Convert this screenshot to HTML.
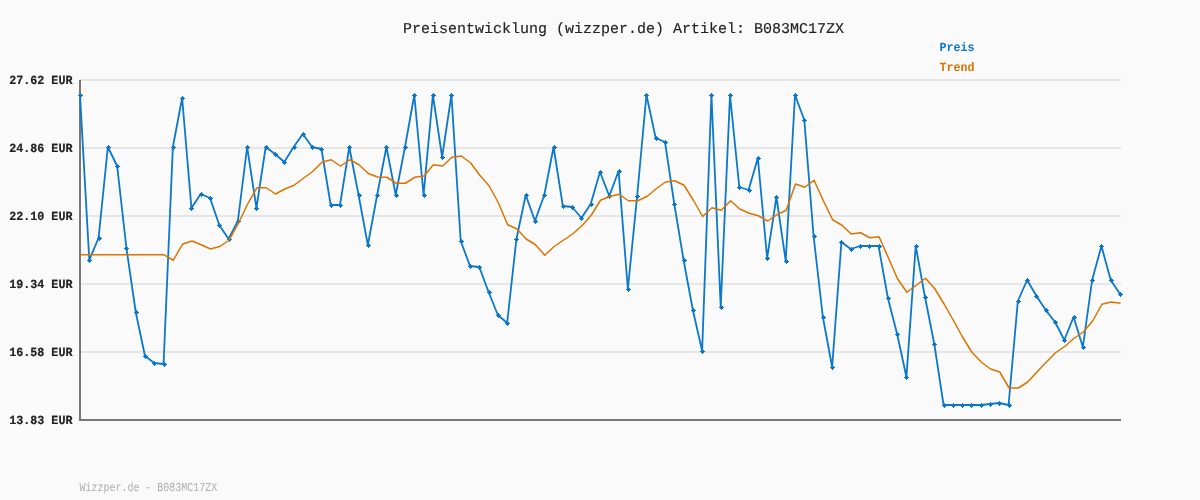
<!DOCTYPE html>
<html lang="de">
<head>
<meta charset="utf-8">
<title>Preisentwicklung (wizzper.de) Artikel: B083MC17ZX</title>
<style>
html,body{margin:0;padding:0;background:#fafafa;}
body{width:1200px;height:500px;overflow:hidden;}
svg{display:block;}
text{font-family:"Liberation Mono","DejaVu Sans Mono",monospace;text-rendering:geometricPrecision;}
.title{font-size:15px;fill:#222;stroke:#222;stroke-width:0.15px;}
.yl{font-size:12.4px;font-weight:bold;fill:#222;stroke:#222;stroke-width:0.2px;}
.lg{font-size:12.4px;font-weight:bold;}
.ft{font-size:12.2px;fill:#adadad;}
</style>
</head>
<body>
<svg width="1200" height="500" viewBox="0 0 1200 500">
<rect width="1200" height="500" fill="#fafafa"/>
<rect x="80" y="79" width="1041" height="2" fill="#e6e6e6"/><rect x="80" y="147" width="1041" height="2" fill="#e6e6e6"/><rect x="80" y="215" width="1041" height="2" fill="#e6e6e6"/><rect x="80" y="283" width="1041" height="2" fill="#e6e6e6"/><rect x="80" y="351" width="1041" height="2" fill="#e6e6e6"/>
<rect x="79" y="80" width="2" height="341" fill="#787878"/>
<rect x="79" y="419" width="1042" height="2" fill="#787878"/>
<text x="623.6" y="33" text-anchor="middle" class="title">Preisentwicklung (wizzper.de) Artikel: B083MC17ZX</text>
<text transform="translate(9.2 84.25) scale(0.945 1)" class="yl">27.62 EUR</text><text transform="translate(9.2 152.25) scale(0.945 1)" class="yl">24.86 EUR</text><text transform="translate(9.2 220.25) scale(0.945 1)" class="yl">22.10 EUR</text><text transform="translate(9.2 288.25) scale(0.945 1)" class="yl">19.34 EUR</text><text transform="translate(9.2 356.25) scale(0.945 1)" class="yl">16.58 EUR</text><text transform="translate(9.2 424.25) scale(0.945 1)" class="yl">13.83 EUR</text>
<text transform="translate(939.4 51.2) scale(0.945 1)" class="lg" fill="#0c78cc">Preis</text>
<text transform="translate(939.4 71.2) scale(0.945 1)" class="lg" fill="#dc7300">Trend</text>
<polyline fill="none" stroke="#0c78cc" stroke-width="1.8" stroke-linejoin="round" points="80.00,95.00 89.29,260.00 98.57,238.00 107.86,147.00 117.14,166.00 126.43,248.00 135.71,312.00 145.00,356.00 154.29,363.00 163.57,364.00 172.86,147.00 182.14,98.00 191.43,208.00 200.71,194.00 210.00,198.00 219.29,225.00 228.57,239.00 237.86,221.00 247.14,147.00 256.43,208.00 265.71,147.00 275.00,154.00 284.29,162.00 293.57,147.00 302.86,134.00 312.14,147.00 321.43,149.00 330.71,205.00 340.00,205.00 349.29,147.00 358.57,195.00 367.86,245.00 377.14,195.00 386.43,147.00 395.71,195.00 405.00,147.00 414.29,95.00 423.57,195.00 432.86,95.00 442.14,157.00 451.43,95.00 460.71,241.00 470.00,266.00 479.29,267.00 488.57,292.00 497.86,315.00 507.14,323.00 516.43,239.00 525.71,195.00 535.00,221.00 544.29,195.00 553.57,147.00 562.86,206.00 572.14,207.00 581.43,218.00 590.71,204.00 600.00,172.00 609.29,196.00 618.57,171.00 627.86,289.00 637.14,196.00 646.43,95.00 655.71,138.00 665.00,142.00 674.29,204.00 683.57,260.00 692.86,310.00 702.14,351.00 711.43,95.00 720.71,307.00 730.00,95.00 739.29,187.00 748.57,190.00 757.86,158.00 767.14,258.00 776.43,197.00 785.71,261.00 795.00,95.00 804.29,120.00 813.57,236.00 822.86,317.00 832.14,367.00 841.43,242.00 850.71,249.00 860.00,246.00 869.29,246.00 878.57,246.00 887.86,298.00 897.14,334.00 906.43,377.00 915.71,246.00 925.00,297.00 934.29,344.00 943.57,405.00 952.86,405.00 962.14,405.00 971.43,405.00 980.71,405.00 990.00,404.00 999.29,403.00 1008.57,405.00 1017.86,301.00 1027.14,280.00 1036.43,296.00 1045.71,310.00 1055.00,322.00 1064.29,340.00 1073.57,317.00 1082.86,347.00 1092.14,280.00 1101.43,246.00 1110.71,280.00 1120.00,294.00"/>
<g fill="#0c78cc"><path d="M80 93h1v1h1v1h1v1h-1v1h-1v1h-1v-1h-1v-1h-1v-1h1v-1h1z"/><path d="M89 258h1v1h1v1h1v1h-1v1h-1v1h-1v-1h-1v-1h-1v-1h1v-1h1z"/><path d="M99 236h1v1h1v1h1v1h-1v1h-1v1h-1v-1h-1v-1h-1v-1h1v-1h1z"/><path d="M108 145h1v1h1v1h1v1h-1v1h-1v1h-1v-1h-1v-1h-1v-1h1v-1h1z"/><path d="M117 164h1v1h1v1h1v1h-1v1h-1v1h-1v-1h-1v-1h-1v-1h1v-1h1z"/><path d="M126 246h1v1h1v1h1v1h-1v1h-1v1h-1v-1h-1v-1h-1v-1h1v-1h1z"/><path d="M136 310h1v1h1v1h1v1h-1v1h-1v1h-1v-1h-1v-1h-1v-1h1v-1h1z"/><path d="M145 354h1v1h1v1h1v1h-1v1h-1v1h-1v-1h-1v-1h-1v-1h1v-1h1z"/><path d="M154 361h1v1h1v1h1v1h-1v1h-1v1h-1v-1h-1v-1h-1v-1h1v-1h1z"/><path d="M164 362h1v1h1v1h1v1h-1v1h-1v1h-1v-1h-1v-1h-1v-1h1v-1h1z"/><path d="M173 145h1v1h1v1h1v1h-1v1h-1v1h-1v-1h-1v-1h-1v-1h1v-1h1z"/><path d="M182 96h1v1h1v1h1v1h-1v1h-1v1h-1v-1h-1v-1h-1v-1h1v-1h1z"/><path d="M191 206h1v1h1v1h1v1h-1v1h-1v1h-1v-1h-1v-1h-1v-1h1v-1h1z"/><path d="M201 192h1v1h1v1h1v1h-1v1h-1v1h-1v-1h-1v-1h-1v-1h1v-1h1z"/><path d="M210 196h1v1h1v1h1v1h-1v1h-1v1h-1v-1h-1v-1h-1v-1h1v-1h1z"/><path d="M219 223h1v1h1v1h1v1h-1v1h-1v1h-1v-1h-1v-1h-1v-1h1v-1h1z"/><path d="M229 237h1v1h1v1h1v1h-1v1h-1v1h-1v-1h-1v-1h-1v-1h1v-1h1z"/><path d="M238 219h1v1h1v1h1v1h-1v1h-1v1h-1v-1h-1v-1h-1v-1h1v-1h1z"/><path d="M247 145h1v1h1v1h1v1h-1v1h-1v1h-1v-1h-1v-1h-1v-1h1v-1h1z"/><path d="M256 206h1v1h1v1h1v1h-1v1h-1v1h-1v-1h-1v-1h-1v-1h1v-1h1z"/><path d="M266 145h1v1h1v1h1v1h-1v1h-1v1h-1v-1h-1v-1h-1v-1h1v-1h1z"/><path d="M275 152h1v1h1v1h1v1h-1v1h-1v1h-1v-1h-1v-1h-1v-1h1v-1h1z"/><path d="M284 160h1v1h1v1h1v1h-1v1h-1v1h-1v-1h-1v-1h-1v-1h1v-1h1z"/><path d="M294 145h1v1h1v1h1v1h-1v1h-1v1h-1v-1h-1v-1h-1v-1h1v-1h1z"/><path d="M303 132h1v1h1v1h1v1h-1v1h-1v1h-1v-1h-1v-1h-1v-1h1v-1h1z"/><path d="M312 145h1v1h1v1h1v1h-1v1h-1v1h-1v-1h-1v-1h-1v-1h1v-1h1z"/><path d="M321 147h1v1h1v1h1v1h-1v1h-1v1h-1v-1h-1v-1h-1v-1h1v-1h1z"/><path d="M331 203h1v1h1v1h1v1h-1v1h-1v1h-1v-1h-1v-1h-1v-1h1v-1h1z"/><path d="M340 203h1v1h1v1h1v1h-1v1h-1v1h-1v-1h-1v-1h-1v-1h1v-1h1z"/><path d="M349 145h1v1h1v1h1v1h-1v1h-1v1h-1v-1h-1v-1h-1v-1h1v-1h1z"/><path d="M359 193h1v1h1v1h1v1h-1v1h-1v1h-1v-1h-1v-1h-1v-1h1v-1h1z"/><path d="M368 243h1v1h1v1h1v1h-1v1h-1v1h-1v-1h-1v-1h-1v-1h1v-1h1z"/><path d="M377 193h1v1h1v1h1v1h-1v1h-1v1h-1v-1h-1v-1h-1v-1h1v-1h1z"/><path d="M386 145h1v1h1v1h1v1h-1v1h-1v1h-1v-1h-1v-1h-1v-1h1v-1h1z"/><path d="M396 193h1v1h1v1h1v1h-1v1h-1v1h-1v-1h-1v-1h-1v-1h1v-1h1z"/><path d="M405 145h1v1h1v1h1v1h-1v1h-1v1h-1v-1h-1v-1h-1v-1h1v-1h1z"/><path d="M414 93h1v1h1v1h1v1h-1v1h-1v1h-1v-1h-1v-1h-1v-1h1v-1h1z"/><path d="M424 193h1v1h1v1h1v1h-1v1h-1v1h-1v-1h-1v-1h-1v-1h1v-1h1z"/><path d="M433 93h1v1h1v1h1v1h-1v1h-1v1h-1v-1h-1v-1h-1v-1h1v-1h1z"/><path d="M442 155h1v1h1v1h1v1h-1v1h-1v1h-1v-1h-1v-1h-1v-1h1v-1h1z"/><path d="M451 93h1v1h1v1h1v1h-1v1h-1v1h-1v-1h-1v-1h-1v-1h1v-1h1z"/><path d="M461 239h1v1h1v1h1v1h-1v1h-1v1h-1v-1h-1v-1h-1v-1h1v-1h1z"/><path d="M470 264h1v1h1v1h1v1h-1v1h-1v1h-1v-1h-1v-1h-1v-1h1v-1h1z"/><path d="M479 265h1v1h1v1h1v1h-1v1h-1v1h-1v-1h-1v-1h-1v-1h1v-1h1z"/><path d="M489 290h1v1h1v1h1v1h-1v1h-1v1h-1v-1h-1v-1h-1v-1h1v-1h1z"/><path d="M498 313h1v1h1v1h1v1h-1v1h-1v1h-1v-1h-1v-1h-1v-1h1v-1h1z"/><path d="M507 321h1v1h1v1h1v1h-1v1h-1v1h-1v-1h-1v-1h-1v-1h1v-1h1z"/><path d="M516 237h1v1h1v1h1v1h-1v1h-1v1h-1v-1h-1v-1h-1v-1h1v-1h1z"/><path d="M526 193h1v1h1v1h1v1h-1v1h-1v1h-1v-1h-1v-1h-1v-1h1v-1h1z"/><path d="M535 219h1v1h1v1h1v1h-1v1h-1v1h-1v-1h-1v-1h-1v-1h1v-1h1z"/><path d="M544 193h1v1h1v1h1v1h-1v1h-1v1h-1v-1h-1v-1h-1v-1h1v-1h1z"/><path d="M554 145h1v1h1v1h1v1h-1v1h-1v1h-1v-1h-1v-1h-1v-1h1v-1h1z"/><path d="M563 204h1v1h1v1h1v1h-1v1h-1v1h-1v-1h-1v-1h-1v-1h1v-1h1z"/><path d="M572 205h1v1h1v1h1v1h-1v1h-1v1h-1v-1h-1v-1h-1v-1h1v-1h1z"/><path d="M581 216h1v1h1v1h1v1h-1v1h-1v1h-1v-1h-1v-1h-1v-1h1v-1h1z"/><path d="M591 202h1v1h1v1h1v1h-1v1h-1v1h-1v-1h-1v-1h-1v-1h1v-1h1z"/><path d="M600 170h1v1h1v1h1v1h-1v1h-1v1h-1v-1h-1v-1h-1v-1h1v-1h1z"/><path d="M609 194h1v1h1v1h1v1h-1v1h-1v1h-1v-1h-1v-1h-1v-1h1v-1h1z"/><path d="M619 169h1v1h1v1h1v1h-1v1h-1v1h-1v-1h-1v-1h-1v-1h1v-1h1z"/><path d="M628 287h1v1h1v1h1v1h-1v1h-1v1h-1v-1h-1v-1h-1v-1h1v-1h1z"/><path d="M637 194h1v1h1v1h1v1h-1v1h-1v1h-1v-1h-1v-1h-1v-1h1v-1h1z"/><path d="M646 93h1v1h1v1h1v1h-1v1h-1v1h-1v-1h-1v-1h-1v-1h1v-1h1z"/><path d="M656 136h1v1h1v1h1v1h-1v1h-1v1h-1v-1h-1v-1h-1v-1h1v-1h1z"/><path d="M665 140h1v1h1v1h1v1h-1v1h-1v1h-1v-1h-1v-1h-1v-1h1v-1h1z"/><path d="M674 202h1v1h1v1h1v1h-1v1h-1v1h-1v-1h-1v-1h-1v-1h1v-1h1z"/><path d="M684 258h1v1h1v1h1v1h-1v1h-1v1h-1v-1h-1v-1h-1v-1h1v-1h1z"/><path d="M693 308h1v1h1v1h1v1h-1v1h-1v1h-1v-1h-1v-1h-1v-1h1v-1h1z"/><path d="M702 349h1v1h1v1h1v1h-1v1h-1v1h-1v-1h-1v-1h-1v-1h1v-1h1z"/><path d="M711 93h1v1h1v1h1v1h-1v1h-1v1h-1v-1h-1v-1h-1v-1h1v-1h1z"/><path d="M721 305h1v1h1v1h1v1h-1v1h-1v1h-1v-1h-1v-1h-1v-1h1v-1h1z"/><path d="M730 93h1v1h1v1h1v1h-1v1h-1v1h-1v-1h-1v-1h-1v-1h1v-1h1z"/><path d="M739 185h1v1h1v1h1v1h-1v1h-1v1h-1v-1h-1v-1h-1v-1h1v-1h1z"/><path d="M749 188h1v1h1v1h1v1h-1v1h-1v1h-1v-1h-1v-1h-1v-1h1v-1h1z"/><path d="M758 156h1v1h1v1h1v1h-1v1h-1v1h-1v-1h-1v-1h-1v-1h1v-1h1z"/><path d="M767 256h1v1h1v1h1v1h-1v1h-1v1h-1v-1h-1v-1h-1v-1h1v-1h1z"/><path d="M776 195h1v1h1v1h1v1h-1v1h-1v1h-1v-1h-1v-1h-1v-1h1v-1h1z"/><path d="M786 259h1v1h1v1h1v1h-1v1h-1v1h-1v-1h-1v-1h-1v-1h1v-1h1z"/><path d="M795 93h1v1h1v1h1v1h-1v1h-1v1h-1v-1h-1v-1h-1v-1h1v-1h1z"/><path d="M804 118h1v1h1v1h1v1h-1v1h-1v1h-1v-1h-1v-1h-1v-1h1v-1h1z"/><path d="M814 234h1v1h1v1h1v1h-1v1h-1v1h-1v-1h-1v-1h-1v-1h1v-1h1z"/><path d="M823 315h1v1h1v1h1v1h-1v1h-1v1h-1v-1h-1v-1h-1v-1h1v-1h1z"/><path d="M832 365h1v1h1v1h1v1h-1v1h-1v1h-1v-1h-1v-1h-1v-1h1v-1h1z"/><path d="M841 240h1v1h1v1h1v1h-1v1h-1v1h-1v-1h-1v-1h-1v-1h1v-1h1z"/><path d="M851 247h1v1h1v1h1v1h-1v1h-1v1h-1v-1h-1v-1h-1v-1h1v-1h1z"/><path d="M860 244h1v1h1v1h1v1h-1v1h-1v1h-1v-1h-1v-1h-1v-1h1v-1h1z"/><path d="M869 244h1v1h1v1h1v1h-1v1h-1v1h-1v-1h-1v-1h-1v-1h1v-1h1z"/><path d="M879 244h1v1h1v1h1v1h-1v1h-1v1h-1v-1h-1v-1h-1v-1h1v-1h1z"/><path d="M888 296h1v1h1v1h1v1h-1v1h-1v1h-1v-1h-1v-1h-1v-1h1v-1h1z"/><path d="M897 332h1v1h1v1h1v1h-1v1h-1v1h-1v-1h-1v-1h-1v-1h1v-1h1z"/><path d="M906 375h1v1h1v1h1v1h-1v1h-1v1h-1v-1h-1v-1h-1v-1h1v-1h1z"/><path d="M916 244h1v1h1v1h1v1h-1v1h-1v1h-1v-1h-1v-1h-1v-1h1v-1h1z"/><path d="M925 295h1v1h1v1h1v1h-1v1h-1v1h-1v-1h-1v-1h-1v-1h1v-1h1z"/><path d="M934 342h1v1h1v1h1v1h-1v1h-1v1h-1v-1h-1v-1h-1v-1h1v-1h1z"/><path d="M944 403h1v1h1v1h1v1h-1v1h-1v1h-1v-1h-1v-1h-1v-1h1v-1h1z"/><path d="M953 403h1v1h1v1h1v1h-1v1h-1v1h-1v-1h-1v-1h-1v-1h1v-1h1z"/><path d="M962 403h1v1h1v1h1v1h-1v1h-1v1h-1v-1h-1v-1h-1v-1h1v-1h1z"/><path d="M971 403h1v1h1v1h1v1h-1v1h-1v1h-1v-1h-1v-1h-1v-1h1v-1h1z"/><path d="M981 403h1v1h1v1h1v1h-1v1h-1v1h-1v-1h-1v-1h-1v-1h1v-1h1z"/><path d="M990 402h1v1h1v1h1v1h-1v1h-1v1h-1v-1h-1v-1h-1v-1h1v-1h1z"/><path d="M999 401h1v1h1v1h1v1h-1v1h-1v1h-1v-1h-1v-1h-1v-1h1v-1h1z"/><path d="M1009 403h1v1h1v1h1v1h-1v1h-1v1h-1v-1h-1v-1h-1v-1h1v-1h1z"/><path d="M1018 299h1v1h1v1h1v1h-1v1h-1v1h-1v-1h-1v-1h-1v-1h1v-1h1z"/><path d="M1027 278h1v1h1v1h1v1h-1v1h-1v1h-1v-1h-1v-1h-1v-1h1v-1h1z"/><path d="M1036 294h1v1h1v1h1v1h-1v1h-1v1h-1v-1h-1v-1h-1v-1h1v-1h1z"/><path d="M1046 308h1v1h1v1h1v1h-1v1h-1v1h-1v-1h-1v-1h-1v-1h1v-1h1z"/><path d="M1055 320h1v1h1v1h1v1h-1v1h-1v1h-1v-1h-1v-1h-1v-1h1v-1h1z"/><path d="M1064 338h1v1h1v1h1v1h-1v1h-1v1h-1v-1h-1v-1h-1v-1h1v-1h1z"/><path d="M1074 315h1v1h1v1h1v1h-1v1h-1v1h-1v-1h-1v-1h-1v-1h1v-1h1z"/><path d="M1083 345h1v1h1v1h1v1h-1v1h-1v1h-1v-1h-1v-1h-1v-1h1v-1h1z"/><path d="M1092 278h1v1h1v1h1v1h-1v1h-1v1h-1v-1h-1v-1h-1v-1h1v-1h1z"/><path d="M1101 244h1v1h1v1h1v1h-1v1h-1v1h-1v-1h-1v-1h-1v-1h1v-1h1z"/><path d="M1111 278h1v1h1v1h1v1h-1v1h-1v1h-1v-1h-1v-1h-1v-1h1v-1h1z"/><path d="M1120 292h1v1h1v1h1v1h-1v1h-1v1h-1v-1h-1v-1h-1v-1h1v-1h1z"/></g>
<polyline fill="none" stroke="#dc7300" stroke-width="1.5" stroke-linejoin="round" points="80.50,254.85 89.79,254.85 99.07,254.85 108.36,254.85 117.64,254.85 126.93,254.85 136.21,254.85 145.50,254.85 154.79,254.85 164.07,254.85 173.36,260.25 182.64,244.00 191.93,241.00 201.21,244.75 210.50,249.00 219.79,246.50 229.07,240.25 238.36,223.45 247.64,204.00 256.93,187.75 266.21,187.75 275.50,194.00 284.79,189.00 294.07,185.25 303.36,178.25 312.64,171.50 321.93,162.25 331.21,159.75 340.50,166.00 349.79,159.75 359.07,164.75 368.36,173.50 377.64,177.00 386.93,177.25 396.21,183.25 405.50,183.25 414.79,177.25 424.07,176.00 433.36,164.75 442.64,166.00 451.93,157.25 461.21,156.00 470.50,162.75 479.79,175.25 489.07,185.75 498.36,202.75 507.64,224.75 516.93,229.00 526.21,239.00 535.50,244.75 544.79,255.25 554.07,246.50 563.36,240.25 572.64,234.00 581.93,225.75 591.21,215.25 600.50,200.25 609.79,196.50 619.07,194.25 628.36,200.75 637.64,200.75 646.93,196.50 656.21,188.75 665.50,182.00 674.79,180.75 684.07,185.25 693.36,200.25 702.64,216.50 711.93,207.75 721.21,210.25 730.50,200.75 739.79,209.00 749.07,213.25 758.36,215.75 767.64,221.00 776.93,214.75 786.21,210.25 795.50,184.00 804.79,187.25 814.07,180.25 823.36,200.75 832.64,219.75 841.93,225.25 851.21,234.00 860.50,232.75 869.79,237.75 879.07,236.75 888.36,257.75 897.64,279.00 906.93,292.25 916.21,285.25 925.50,278.25 934.79,288.75 944.07,304.00 953.36,320.25 962.64,337.25 971.93,352.25 981.21,362.00 990.50,369.00 999.79,372.00 1009.07,388.00 1018.36,388.00 1027.64,382.00 1036.93,372.00 1046.21,362.25 1055.50,352.75 1064.79,346.50 1074.07,338.25 1083.36,332.00 1092.64,321.00 1101.93,304.25 1111.21,302.00 1120.50,303.25"/>
<text transform="translate(79.4 491.3) scale(0.82 1)" class="ft">Wizzper.de - B083MC17ZX</text>
</svg>
</body>
</html>
